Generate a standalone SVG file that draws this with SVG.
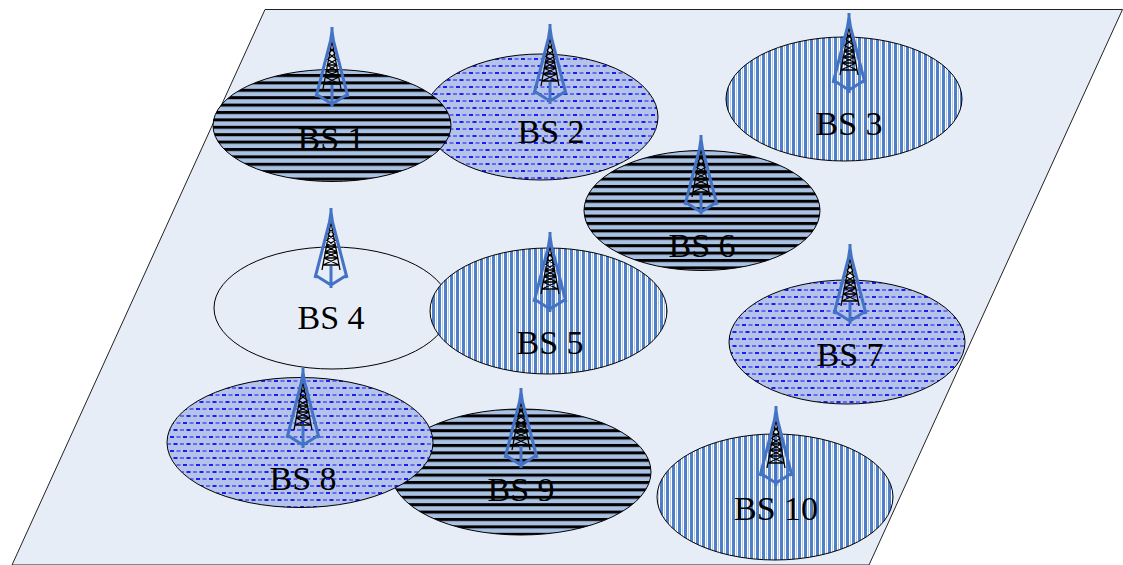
<svg xmlns="http://www.w3.org/2000/svg" xmlns:xlink="http://www.w3.org/1999/xlink" width="1123" height="565" viewBox="0 0 1123 565">
<style>
.cell{stroke:#000;stroke-width:1}
.h{fill:url(#hstripe)}
.v{fill:url(#vstripe)}
.d{fill:url(#dots)}
.e{fill:#e7edf7}
.lbl{font-family:"Liberation Serif","Times New Roman",serif;font-size:34px;fill:#000;text-anchor:middle}
</style>
<defs>
<pattern id="hstripe" width="8" height="7.4" patternUnits="userSpaceOnUse">
<rect width="8" height="7.4" fill="#a9c1e3"/>
<rect y="0" width="8" height="3" fill="#000"/>
</pattern>
<pattern id="vstripe" width="6" height="8" patternUnits="userSpaceOnUse">
<rect width="6" height="8" fill="#fff"/>
<rect x="0" width="3" height="8" fill="#4f7fc6"/>
<rect x="4" width="1" height="8" fill="#b5c9e8"/>
</pattern>
<pattern id="dots" width="13" height="14" patternUnits="userSpaceOnUse">
<rect width="13" height="14" fill="#b3c3ea"/>
<rect x="1" y="2" width="4" height="2" fill="#1d1df5"/>
<rect x="7.5" y="2" width="4" height="2" fill="#6a6af0"/>
<rect x="4.5" y="9" width="4" height="2" fill="#1d1df5"/>
<rect x="11" y="9" width="2" height="2" fill="#6a6af0"/>
<rect x="0" y="9" width="2" height="2" fill="#6a6af0"/>
</pattern>
<symbol id="tower" width="40" height="82" viewBox="-20 0 40 82" overflow="visible">
<path d="M0 14L-9 62M0 14L9 62M-5 38L5 38M-6 44L6 44M-7 50L7 50M-8 57L8 57M-4 26L4 32M4 26L-4 32M-5 32L5 38M5 32L-5 38M-5.500 38L6 44M5.500 38L-6 44M-6.500 44L7 50M6.500 44L-7 50M-7 50L8 57M7 50L-8 57M-3 20L3 26M3 20L-3 26" fill="none" stroke="#000" stroke-width="1.300"/>
<path d="M0 0L0 14M-1.500 14L1.500 14L0 4ZM-1 12L-16 70M1 12L16 70M-16 67L0 77L16 67M0 58L0 80" fill="none" stroke="#4472c4" stroke-width="3"/>
</symbol>
</defs>
<path id="plane" d="M265 9.500H1122.500L869 565H12Z" fill="#e7edf7" stroke="#222" stroke-width="1"/>
<g id="bs2"><ellipse class="cell d" cx="541" cy="117" rx="117" ry="63"/><use href="#tower" x="530" y="24"/><text class="lbl" x="551" y="143">BS 2</text></g>
<g id="bs1"><ellipse class="cell h" cx="332" cy="125.500" rx="119" ry="56"/><use href="#tower" x="312" y="27"/><text class="lbl" x="331" y="150">BS 1</text></g>
<g id="bs3"><ellipse class="cell v" cx="844" cy="99" rx="118" ry="62"/><use href="#tower" x="829" y="13"/><text class="lbl" x="849" y="135">BS 3</text></g>
<g id="bs6"><ellipse class="cell h" cx="702" cy="210.500" rx="118" ry="60"/><use href="#tower" x="681" y="135"/><text class="lbl" x="702" y="257">BS 6</text></g>
<g id="bs4"><ellipse class="cell e" cx="332" cy="308" rx="118" ry="61"/><use href="#tower" x="311" y="208"/><text class="lbl" x="331" y="329">BS 4</text></g>
<g id="bs5"><ellipse class="cell v" cx="548.500" cy="311" rx="118.500" ry="63"/><use href="#tower" x="530" y="232"/><text class="lbl" x="550" y="354">BS 5</text></g>
<g id="bs7"><ellipse class="cell d" cx="847" cy="342" rx="118" ry="62"/><use href="#tower" x="830" y="244"/><text class="lbl" x="850" y="366">BS 7</text></g>
<g id="bs9"><ellipse class="cell h" cx="521" cy="472" rx="130" ry="63"/><use href="#tower" x="501" y="388"/><text class="lbl" x="521" y="501">BS 9</text></g>
<g id="bs8"><ellipse class="cell d" cx="300" cy="442.500" rx="133" ry="65"/><use href="#tower" x="283" y="368"/><text class="lbl" x="303" y="490">BS 8</text></g>
<g id="bs10"><ellipse class="cell v" cx="775" cy="497" rx="118" ry="63"/><use href="#tower" x="756" y="406"/><text class="lbl" x="776" y="520">BS 10</text></g>
<g id="connectors"/>
</svg>
